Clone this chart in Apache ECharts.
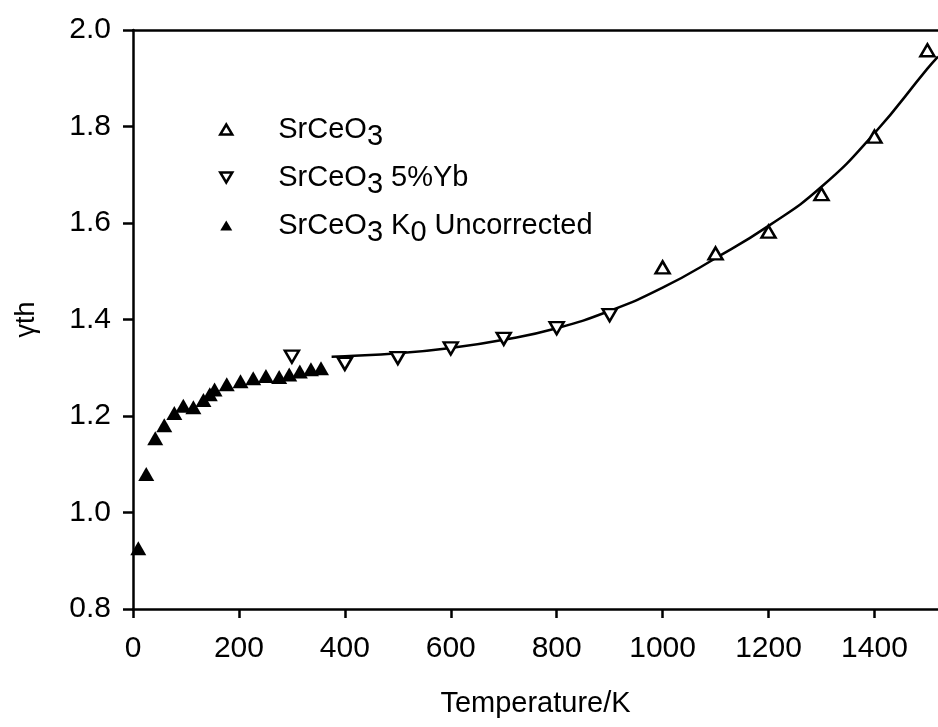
<!DOCTYPE html>
<html>
<head>
<meta charset="utf-8">
<script src="https://cdn.jsdelivr.net/npm/echarts@6/dist/echarts.min.js"></script>
<style>
  html, body { margin: 0; padding: 0; background: #fff; }
  #chart { width: 938px; height: 727px; }
</style>
</head>
<body>
<div id="chart"></div>
<script>
// SrCeO3 (открытые треугольники)
const tempSr = [1000, 1100, 1200, 1300, 1400, 1500]
const gammaSr = [1.508, 1.537, 1.582, 1.660, 1.779, 1.958]

// SrCeO3 5%Yb (перевёрнутые треугольники)
const tempYb = [300, 400, 500, 600, 700, 800, 900]
const gammaYb = [1.323, 1.308, 1.320, 1.340, 1.360, 1.382, 1.409]

// SrCeO3 K0 Uncorrected (закрашенные)
const tempK0 = [10, 25, 42, 59, 78, 95, 114, 133, 145, 154, 177, 203, 227, 251, 276, 295, 315, 336, 355]
const gammaK0 = [0.926, 1.080, 1.154, 1.181, 1.206, 1.221, 1.218, 1.233, 1.245, 1.255, 1.266, 1.272, 1.278, 1.283, 1.281, 1.286, 1.292, 1.297, 1.299]

// аппроксимирующая кривая
const fitTemp = [375, 400, 500, 600, 700, 800, 900, 1000, 1100, 1200, 1300, 1400, 1500, 1520]
const fitGamma = [1.323, 1.324, 1.330, 1.341, 1.358, 1.382, 1.418, 1.466, 1.527, 1.594, 1.675, 1.786, 1.920, 1.945]

const xTicks = [0, 200, 400, 600, 800, 1000, 1200, 1400]
const yTicks = [0.8, 1.0, 1.2, 1.4, 1.6, 1.8, 2.0]

const legendNames = ['SrCeO3', 'SrCeO3 5%Yb', 'SrCeO3 K0 Uncorrected']
const legendRich = {
  'SrCeO3': '{n|SrCeO}{s|3}',
  'SrCeO3 5%Yb': '{n|SrCeO}{s|3}{n| 5%Yb}',
  'SrCeO3 K0 Uncorrected': '{n|SrCeO}{s|3}{n| K}{s|0}{n| Uncorrected}'
}

const font = "'Liberation Sans', Arial, sans-serif"
const zip = (xs, ys) => xs.map((x, i) => [x, ys[i]])

const chart = echarts.init(document.getElementById('chart'), null, { renderer: 'canvas' })

const axisLine = { show: true, onZero: false, lineStyle: { color: '#000', width: 2.5 } }
// у scatter по умолчанию opacity 0.8 — делаем маркеры чёрными
const openStyle = { color: '#fff', borderColor: '#000', borderWidth: 2.5, opacity: 1 }

const option = {
  backgroundColor: '#fff',
  animation: false,
  textStyle: { fontFamily: font },
  grid: { left: 133, right: 0, top: 30, bottom: 118 },
  legend: {
    data: [
      { name: legendNames[0], icon: 'triangle', itemStyle: { borderWidth: 2.5, borderColor: '#000', opacity: 1 } },
      { name: legendNames[1], icon: 'path://M0,0L12,0L6,10Z', itemStyle: { borderWidth: 2.5, borderColor: '#000', opacity: 1 } },
      { name: legendNames[2], icon: 'triangle', itemStyle: { opacity: 1 } }
    ],
    orient: 'vertical',
    left: 214,
    top: 103,
    itemWidth: 12,
    itemHeight: 10,
    itemGap: 5,
    selectedMode: false,
    formatter: (name) => legendRich[name],
    textStyle: {
      padding: [0, 0, 0, 41],
      rich: {
        n: { fontSize: 29, lineHeight: 34, color: '#000', fontFamily: font },
        s: { fontSize: 29, lineHeight: 34, color: '#000', fontFamily: font, padding: [14, 0, 0, 0] }
      }
    }
  },
  xAxis: [
    {
      type: 'value',
      min: 0,
      max: 1520,
      interval: 200,
      name: 'Temperature/K',
      nameLocation: 'middle',
      nameGap: 80,
      nameTextStyle: { fontSize: 29, color: '#000', fontFamily: font },
      axisLine: axisLine,
      axisTick: { show: true, inside: false, length: 9, lineStyle: { color: '#000', width: 2.5 } },
      axisLabel: {
        fontSize: 30,
        color: '#000',
        margin: 25,
        showMaxLabel: false,
        formatter: (v) => (xTicks.includes(v) ? String(v) : '')
      },
      splitLine: { show: false }
    },
    {
      // верхняя рамка
      type: 'value',
      position: 'top',
      min: 0,
      max: 1520,
      axisLine: axisLine,
      axisTick: { show: false },
      axisLabel: { show: false },
      splitLine: { show: false }
    }
  ],
  yAxis: {
    type: 'value',
    min: 0.8,
    max: 2.0,
    interval: 0.2,
    name: 'γth',
    nameLocation: 'middle',
    nameGap: 93,
    nameRotate: 90,
    nameTextStyle: { fontSize: 27, color: '#000', fontFamily: font },
    axisLine: axisLine,
    axisTick: { show: true, inside: false, length: 10, lineStyle: { color: '#000', width: 2.5 } },
    axisLabel: {
      fontSize: 30,
      color: '#000',
      margin: 22,
      formatter: (v) => (yTicks.some(t => Math.abs(t - v) < 1e-6) ? v.toFixed(1) : '')
    },
    splitLine: { show: false }
  },
  series: [
    {
      name: 'SrCeO3',
      type: 'scatter',
      data: zip(tempSr, gammaSr),
      symbol: 'triangle',
      symbolSize: [14, 12],
      itemStyle: openStyle,
      z: 3
    },
    {
      name: 'SrCeO3 5%Yb',
      type: 'scatter',
      data: zip(tempYb, gammaYb),
      symbol: 'triangle',
      symbolRotate: 180,
      symbolSize: [14, 12],
      itemStyle: openStyle,
      z: 3
    },
    {
      name: 'SrCeO3 K0 Uncorrected',
      type: 'scatter',
      data: zip(tempK0, gammaK0),
      symbol: 'triangle',
      symbolSize: [16, 14],
      itemStyle: { color: '#000', opacity: 1 },
      z: 3
    },
    {
      name: 'fit',
      type: 'line',
      data: zip(fitTemp, fitGamma),
      smooth: true,
      showSymbol: false,
      lineStyle: { color: '#000', width: 2.5 },
      z: 2
    }
  ]
}

chart.setOption(option)
</script>
</body>
</html>
